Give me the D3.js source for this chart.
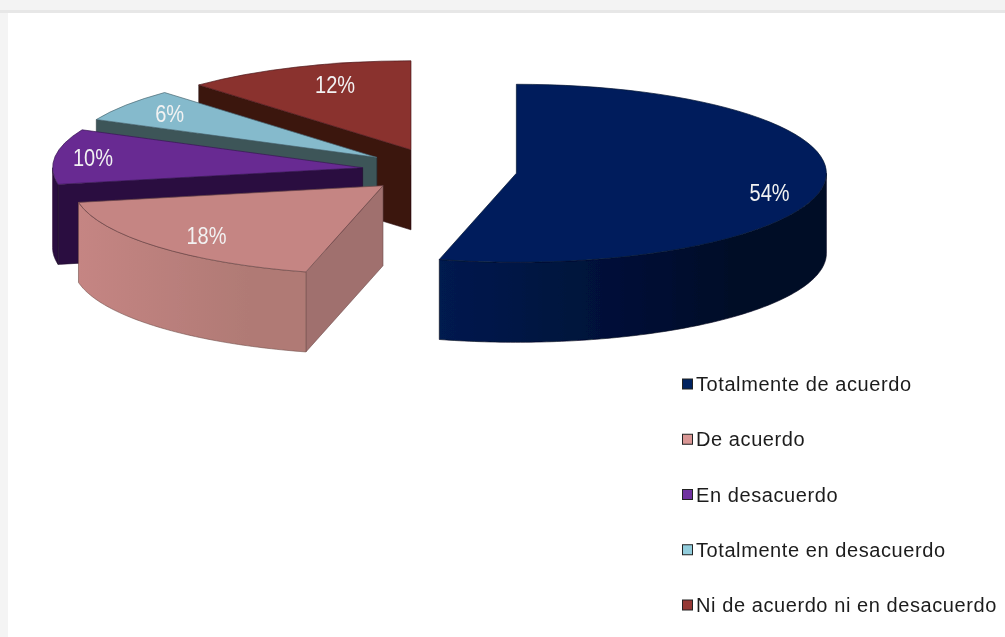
<!DOCTYPE html>
<html><head><meta charset="utf-8">
<script src="https://cdn.jsdelivr.net/npm/d3@7"></script>
<style>html,body{margin:0;padding:0;background:#fff;overflow:hidden}svg{display:block}</style>
</head><body><div id="chart"></div>
<script>
const categories = ["Totalmente de acuerdo","De acuerdo","En desacuerdo","Totalmente en desacuerdo","Ni de acuerdo ni en desacuerdo"];
const values = [54,18,10,6,12];
const valueLabels = ["54%","18%","10%","6%","12%"];

// styles
const topColors  = ["#011f5b","#c58583","#672a92","#85bacc","#8a302f"];
const edgeColors = ["#000d30","#a0706e","#2b0e3f","#3c5459","#3a1410"];
const sideLeft   = ["#001a4f","#c58583","#2b0e3f","#3c5459","#3a1410"];
const sideRight  = ["#000a28","#b07a75","#2b0e3f","#3c5459","#3a1410"];
const swatchColors = ["#002060","#d99694","#7030a0","#92cddc","#953735"];

// layout
const W=1005,H=637, cx=439.5, cy=170.5, rx=310, ry=89, depth=80, explode=0.25;
const labelFractions=[0.82,0.79,0.88,0.83,0.7];
const labelNudgeX=[1,2,1,1,4];
const labelNudgeY=[11,2,0,0,-7];
const drawOrder=[4,3,2,1,0];

const svg=d3.select("#chart").append("svg").attr("width",W).attr("height",H);
const defs=svg.append("defs");
defs.append("filter").attr("id","soft").attr("x","-5%").attr("y","-5%").attr("width","110%").attr("height","110%")
  .append("feGaussianBlur").attr("stdDeviation",0.45);

// page frame
svg.append("rect").attr("width",W).attr("height",13).attr("fill","#f3f3f3");
svg.append("rect").attr("y",10).attr("width",W).attr("height",3).attr("fill","#e7e7e7");
svg.append("rect").attr("y",13).attr("width",8).attr("height",H-13).attr("fill","#f4f4f4");

const root=svg.append("g").attr("filter","url(#soft)");
const arcs=d3.pie().sort(null)(values);
const kY=ry/rx;
const flat=(theta,r)=>{const p=d3.pointRadial(theta,r);return [p[0],p[1]*kY];};
const arcGen=d3.arc().innerRadius(0).outerRadius(rx);
const line=d3.line();

function sample(a,b){const n=Math.max(2,Math.ceil((b-a)*60));return d3.range(n+1).map(i=>a+(b-a)*i/n);}

arcs.forEach(d=>{
  const mid=(d.startAngle+d.endAngle)/2;
  const off=flat(mid,rx*explode);
  d.ox=cx+off[0]; d.oy=cy+off[1]; d.mid=mid;
});

drawOrder.forEach(i=>{
  const d=arcs[i];
  const g=root.append("g").attr("transform",`translate(${d.ox},${d.oy})`);
  const wall=(theta,fill)=>{
    const e=flat(theta,rx);
    g.append("path").attr("d",line([[0,0],e,[e[0],e[1]+depth],[0,depth]])+"Z")
      .attr("fill",fill).attr("stroke",d3.color(fill).darker(1)).attr("stroke-width",0.6);
  };
  if(Math.sin(d.startAngle)<-1e-6) wall(d.startAngle,edgeColors[i]);
  if(Math.sin(d.endAngle)>1e-6) wall(d.endAngle,edgeColors[i]);
  const a=Math.max(d.startAngle,Math.PI/2), b=Math.min(d.endAngle,3*Math.PI/2);
  if(b>a){
    const top=sample(a,b).map(t=>flat(t,rx));
    const bot=top.slice().reverse().map(p=>[p[0],p[1]+depth]);
    const gid="side"+i;
    const xs=top.map(p=>p[0]);
    const lg=defs.append("linearGradient").attr("id",gid).attr("gradientUnits","userSpaceOnUse")
      .attr("x1",d3.min(xs)).attr("x2",d3.max(xs)).attr("y1",0).attr("y2",0);
    lg.append("stop").attr("offset",0).attr("stop-color",sideLeft[i]);
    lg.append("stop").attr("offset",0.75).attr("stop-color",sideRight[i]);
    lg.append("stop").attr("offset",1).attr("stop-color",sideRight[i]);
    g.append("path").attr("d",line(top.concat(bot))+"Z")
      .attr("fill",`url(#${gid})`)
      .attr("stroke",d3.color(sideRight[i]).darker(1.2)).attr("stroke-width",0.6);
  }
  g.append("path").attr("transform",`scale(1,${kY})`).attr("d",arcGen(d))
    .attr("fill",topColors[i]).attr("stroke",d3.color(topColors[i]).darker(1.6))
    .attr("stroke-width",0.7).attr("vector-effect","non-scaling-stroke");
});

arcs.forEach((d,i)=>{
  const p=flat(d.mid,rx*labelFractions[i]);
  root.append("text").attr("x",d.ox+p[0]+labelNudgeX[i]).attr("y",d.oy+p[1]+labelNudgeY[i]+8)
    .attr("text-anchor","middle").attr("font-family","Liberation Sans, Arial, sans-serif")
    .attr("font-size",23).attr("fill","#f2f2f2").attr("textLength",i===3?29:40).attr("lengthAdjust","spacingAndGlyphs")
    .text(valueLabels[i]);
});

// legend
const legendY=d3.scalePoint().domain(categories).range([384,605]);
const lg=root.append("g").selectAll("g").data(categories).join("g")
  .attr("transform",c=>`translate(0,${legendY(c)})`);
lg.append("rect").attr("x",682.5).attr("y",-5).attr("width",10).attr("height",10)
  .attr("fill",(c,i)=>swatchColors[i]).attr("stroke","#222").attr("stroke-width",1);
lg.append("text").attr("x",696).attr("y",7).attr("font-family","Liberation Sans, Arial, sans-serif")
  .attr("font-size",20).attr("letter-spacing",0.58).attr("fill","#1c1c1c").text(c=>c);
</script></body></html>
